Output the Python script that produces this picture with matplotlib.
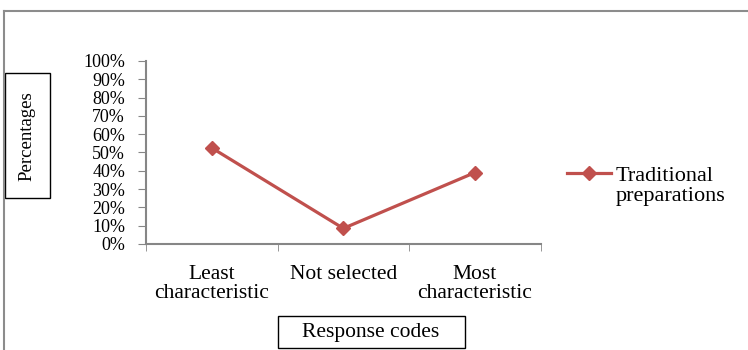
import matplotlib.pyplot as plt
from matplotlib.patches import Rectangle
from matplotlib.lines import Line2D

categories = ["Least\ncharacteristic", "Not selected", "Most\ncharacteristic"]
traditional = [52.5, 8.5, 39]
series_name = "Traditional\npreparations"

plt.rcParams['font.family'] = ['Liberation Serif', 'DejaVu Serif']
red = "#C0504D"

fig = plt.figure(figsize=(7.48, 3.5), dpi=100)
ax = fig.add_axes([0.195, 0.303, 0.528, 0.523])

x = list(range(len(categories)))
ax.plot(x, traditional, color=red, lw=2.3, marker="D", markersize=7.5)

ax.set_xlim(-0.5, len(categories) - 0.5)
ax.set_ylim(0, 100)
ax.set_yticks(range(0, 101, 10))
ax.set_yticklabels([f"{v}%" for v in range(0, 101, 10)], fontsize=13)
ax.set_xticks(x)
ax.set_xticklabels(categories, fontsize=15.5, linespacing=1.0)
ax.set_xticks([-0.5, 0.5, 1.5, 2.5], minor=True)
ax.tick_params(axis='x', which='major', length=0, pad=15)
ax.tick_params(axis='x', which='minor', length=5, color="#868686", direction='out')
ax.tick_params(axis='y', length=6, color="#868686", pad=9)
for lbl in ax.get_yticklabels():
    lbl.set_verticalalignment('center_baseline')

for s in ['top', 'right']:
    ax.spines[s].set_visible(False)
for s in ['left', 'bottom']:
    ax.spines[s].set_color("#868686")
    ax.spines[s].set_linewidth(1.5)

# boxed axis titles
fig.text(27 / 748, 1 - 136 / 350, "Percentages", rotation=90, fontsize=13.5,
         ha='center', va='center')
fig.add_artist(Rectangle((5 / 748, 1 - 198 / 350), 45 / 748, 125 / 350,
                         transform=fig.transFigure, fill=False, lw=1, ec='black'))
fig.text(371 / 748, 1 - 333 / 350, "Response codes", fontsize=15.5,
         ha='center', va='center')
fig.add_artist(Rectangle((278 / 748, 1 - 348 / 350), 187 / 748, 32 / 350,
                         transform=fig.transFigure, fill=False, lw=1, ec='black'))

# outer border (top and left only)
fig.add_artist(Line2D([4 / 748, 4 / 748], [0, 1 - 11 / 350], transform=fig.transFigure,
                      color="#8c8c8c", lw=1.5))
fig.add_artist(Line2D([4 / 748, 1], [1 - 11 / 350, 1 - 11 / 350], transform=fig.transFigure,
                      color="#8c8c8c", lw=1.5))

# legend
fig.add_artist(Line2D([567 / 748, 611 / 748], [1 - 173 / 350, 1 - 173 / 350],
                      transform=fig.transFigure, color=red, lw=2.3))
fig.add_artist(Line2D([589 / 748], [1 - 173 / 350], transform=fig.transFigure,
                      color=red, marker="D", markersize=7.5))
fig.text(616 / 748, 1 - 167 / 350, series_name, fontsize=16, va='top', ha='left',
         linespacing=1.08)

fig.savefig("out.png", dpi=100)
